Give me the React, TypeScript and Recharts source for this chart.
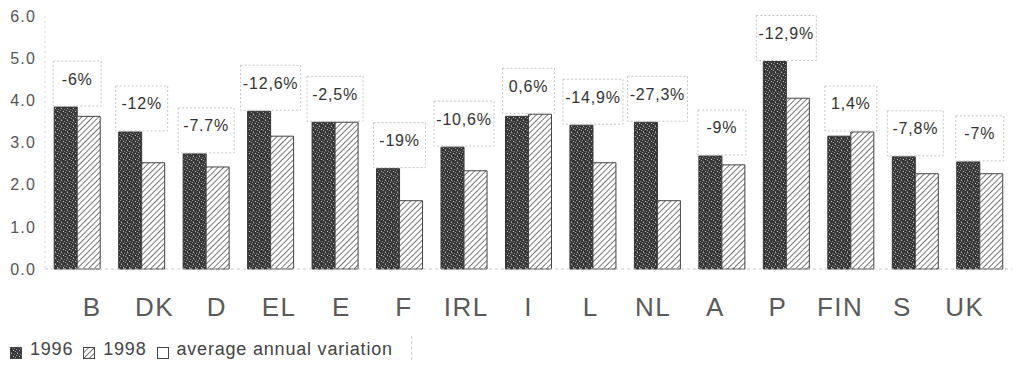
import React from 'react';
import { BarChart, Bar, XAxis, YAxis, Legend, LabelList } from 'recharts';

const countries = ['B', 'DK', 'D', 'EL', 'E', 'F', 'IRL', 'I', 'L', 'NL', 'A', 'P', 'FIN', 'S', 'UK'];
const values1996 = [3.84, 3.25, 2.73, 3.74, 3.48, 2.38, 2.89, 3.62, 3.41, 3.48, 2.68, 4.92, 3.15, 2.66, 2.54];
const values1998 = [3.62, 2.52, 2.42, 3.15, 3.48, 1.62, 2.33, 3.67, 2.52, 1.62, 2.47, 4.05, 3.25, 2.26, 2.26];
const variations = ['-6%', '-12%', '-7.7%', '-12,6%', '-2,5%', '-19%', '-10,6%', '0,6%', '-14,9%', '-27,3%', '-9%', '-12,9%', '1,4%', '-7,8%', '-7%'];
const yTicks = [0, 1, 2, 3, 4, 5, 6];
const legendItems = [
  { label: '1996', fill: 'url(#speckle)' },
  { label: '1998', fill: 'url(#hatch)' },
  { label: 'average annual variation', fill: '#fff' },
];

const data = countries.map((c, i) => ({
  country: c,
  y1996: values1996[i],
  y1998: values1998[i],
  variation: variations[i],
}));

const FONT = '"Liberation Sans", Arial, sans-serif';

// box with the average annual variation, sitting on top of the taller bar
const VariationLabel = (props: any) => {
  const vb = props.viewBox || {};
  const x = props.x ?? vb.x;
  const y = props.y ?? vb.y;
  const width = props.width ?? vb.width;
  const height = props.height ?? vb.height;
  const idx = props.index ?? variations.indexOf(props.value);
  const ppu = height / values1996[idx];
  const top98 = y + height - values1998[idx] * ppu;
  const bottom = Math.min(y, top98) - 1;
  const text = variations[idx];
  const w = text.length * 4 + 36;
  const h = 45;
  const cx = x + width;
  return (
    <g>
      <rect x={cx - w / 2} y={bottom - h} width={w} height={h} fill="none" stroke="#c4c4c4" strokeDasharray="2 2" />
      <text x={cx} y={bottom - h + 18} textAnchor="middle" dominantBaseline="central" fontSize={16} letterSpacing={0.8} fill="#333" fontFamily={FONT}>
        {text}
      </text>
    </g>
  );
};

const Patterns = () => (
  <defs>
    <pattern id="speckle" width="6" height="6" patternUnits="userSpaceOnUse">
      <rect width="6" height="6" fill="#363636" />
      <rect x="1" y="0" width="1" height="1" fill="#b8b8b8" />
      <rect x="4" y="1" width="1" height="1" fill="#8a8a8a" />
      <rect x="0" y="2" width="1" height="1" fill="#9c9c9c" />
      <rect x="3" y="3" width="1" height="1" fill="#cfcfcf" />
      <rect x="5" y="4" width="1" height="1" fill="#a5a5a5" />
      <rect x="1" y="5" width="1" height="1" fill="#7d7d7d" />
      <rect x="2" y="1" width="1" height="1" fill="#5a5a5a" />
    </pattern>
    <pattern id="hatch" width="4" height="4" patternUnits="userSpaceOnUse" patternTransform="rotate(45)">
      <rect width="4" height="4" fill="#fff" />
      <line x1="0" y1="0" x2="0" y2="4" stroke="#555" strokeWidth="1.6" />
    </pattern>
  </defs>
);

const LegendContent = () => (
  <div style={{ display: 'flex', alignItems: 'flex-end', height: 24, width: 412, borderRight: '1px dashed #ccc', fontFamily: FONT, fontSize: 18, letterSpacing: 0.8, color: '#444', paddingLeft: 10, boxSizing: 'border-box' }}>
    {legendItems.map((it) => (
      <span key={it.label} style={{ display: 'flex', alignItems: 'flex-end', marginRight: 10 }}>
        <svg width={12} height={12} style={{ marginRight: 8, marginBottom: 1 }}>
          <Patterns />
          <rect x={0.5} y={0.5} width={11} height={11} fill={it.fill} stroke="#444" />
        </svg>
        <span style={{ lineHeight: '22px' }}>{it.label}</span>
      </span>
    ))}
  </div>
);

export default function App() {
  return (
    <div style={{ position: 'absolute', left: 0, top: 0, width: 1023, height: 370, background: '#fff', fontFamily: FONT }}>
      <BarChart width={1023} height={370} data={data} margin={{ top: 16, right: 11, left: 0, bottom: 10 }} barCategoryGap="14.3%" barGap={0}>
        <Patterns />
        <XAxis xAxisId="bars" dataKey="country" tick={false} tickLine={false} height={1} axisLine={{ stroke: '#c8c8c8', strokeDasharray: '3 3' }} />
        <XAxis xAxisId="labels" dataKey="country" height={66} axisLine={false} tickLine={false} tickMargin={22} padding={{ left: 16, right: 16 }} tick={{ fontSize: 26, fill: '#5a5a5a', letterSpacing: 1.5, fontFamily: FONT }} interval={0} />
        <YAxis domain={[0, 6]} ticks={yTicks} width={45} tickLine={false} tickMargin={3} axisLine={{ stroke: '#d8d8d8', strokeDasharray: '2 3' }} tickFormatter={(v: number) => v.toFixed(1)} tick={{ fontSize: 16, fill: '#555', letterSpacing: 1.2, fontFamily: FONT }} />
        <Legend verticalAlign="bottom" align="left" height={24} wrapperStyle={{ left: 0, bottom: 10 }} content={<LegendContent />} />
        <Bar xAxisId="bars" dataKey="y1996" fill="url(#speckle)" stroke="#333" isAnimationActive={false}>
          <LabelList dataKey="variation" content={<VariationLabel />} />
        </Bar>
        <Bar xAxisId="bars" dataKey="y1998" fill="url(#hatch)" stroke="#444" isAnimationActive={false} />
      </BarChart>
    </div>
  );
}
